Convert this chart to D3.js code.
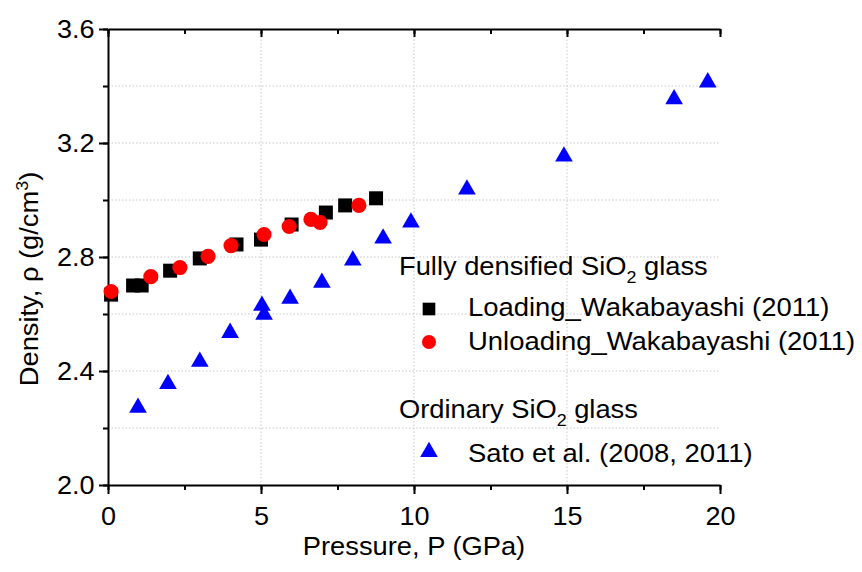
<!DOCTYPE html>
<html>
<head>
<meta charset="utf-8">
<script src="https://cdn.jsdelivr.net/npm/d3@7"></script>
<style>
  body { margin: 0; background: #fff; }
  svg text { font-family: "Liberation Sans", Arial, sans-serif; fill: #000; }
  .grid line { stroke: #c8c8c8; stroke-dasharray: 1.5 2; stroke-width: 1; }
  .axis path, .axis line { stroke: #000; stroke-width: 2; }
  .axis text { font-size: 26px; }
</style>
</head>
<body>
<script>
// Loading, Wakabayashi (2011)
const loadP   = [0.1, 0.82, 1.1, 2.03, 3.0, 4.2, 5.0, 6.0, 7.12, 7.75, 8.76];
const loadRho = [2.668, 2.700, 2.700, 2.752, 2.795, 2.844, 2.861, 2.914, 2.956, 2.981, 3.006];
// Unloading, Wakabayashi (2011)
const unloadP   = [0.1, 1.4, 2.35, 3.27, 4.02, 5.1, 5.92, 6.63, 6.93, 8.2];
const unloadRho = [2.679, 2.731, 2.763, 2.802, 2.840, 2.879, 2.907, 2.932, 2.921, 2.981];
// Sato et al. (2008, 2011), ordinary glass
const satoP   = [0.98, 1.96, 3.0, 3.99, 5.03, 5.1, 5.95, 6.99, 8.0, 8.99, 9.9, 11.73, 14.9, 18.5, 19.6];
const satoRho = [2.271, 2.355, 2.433, 2.534, 2.629, 2.598, 2.654, 2.710, 2.788, 2.865, 2.921, 3.037, 3.153, 3.354, 3.413];

const xTicks = [0, 5, 10, 15, 20];
const yTicks = [2.0, 2.4, 2.8, 3.2, 3.6];

const W = 862, H = 572;
const mLeft = 108, mRight = 720, mTop = 29, mBottom = 485;

const svg = d3.select("body").append("svg")
    .attr("width", W)
    .attr("height", H);

const x = d3.scaleLinear().domain([0, 20]).range([mLeft, mRight]);
const y = d3.scaleLinear().domain([2.0, 3.6]).range([mBottom, mTop]);

// text in the original is a little wider than Arial, so stretch it sideways
function label(parent, px, py, size, sx, anchor) {
    return parent.append("g")
        .attr("transform", `translate(${px},${py})`)
        .append("text")
        .attr("transform", `scale(${sx},1)`)
        .attr("text-anchor", anchor || "start")
        .style("font-size", size + "px");
}

// grid: major x only, y every 0.2
svg.append("g").attr("class", "grid")
    .selectAll("line")
    .data([5, 10, 15])
    .enter().append("line")
    .attr("x1", d => x(d)).attr("x2", d => x(d))
    .attr("y1", mTop).attr("y2", mBottom);
svg.append("g").attr("class", "grid")
    .selectAll("line")
    .data(d3.range(2.2, 3.6, 0.2))
    .enter().append("line")
    .attr("x1", mLeft).attr("x2", mRight)
    .attr("y1", d => y(d)).attr("y2", d => y(d));

const minorX = d3.range(0, 20.01, 2.5);
const minorY = d3.range(2.0, 3.61, 0.2);

// minor ticks
svg.append("g").attr("class", "axis")
    .attr("transform", `translate(0,${mBottom})`)
    .call(d3.axisBottom(x).tickValues(minorX).tickSize(5).tickFormat(""))
    .select(".domain").remove();
svg.append("g").attr("class", "axis")
    .attr("transform", `translate(0,${mTop})`)
    .call(d3.axisBottom(x).tickValues(minorX).tickSize(5).tickFormat(""))
    .select(".domain").remove();
svg.append("g").attr("class", "axis")
    .attr("transform", `translate(${mLeft},0)`)
    .call(d3.axisLeft(y).tickValues(minorY).tickSize(5).tickFormat(""))
    .select(".domain").remove();

// major axes
const xb = svg.append("g").attr("class", "axis")
    .attr("transform", `translate(0,${mBottom})`)
    .call(d3.axisBottom(x).tickValues(xTicks).tickSize(9).tickSizeOuter(0).tickPadding(6));
xb.selectAll("text").attr("dy", "0.95em").attr("transform", "scale(1.04,1)");

svg.append("g").attr("class", "axis")
    .attr("transform", `translate(0,${mTop})`)
    .call(d3.axisBottom(x).tickValues(xTicks).tickSize(8).tickSizeOuter(0).tickFormat(""));

const yl = svg.append("g").attr("class", "axis")
    .attr("transform", `translate(${mLeft},0)`)
    .call(d3.axisLeft(y).tickValues(yTicks).tickSize(9).tickSizeOuter(0).tickPadding(4)
        .tickFormat(d3.format(".1f")));
yl.selectAll("text").attr("transform", "scale(1.04,1)");

svg.selectAll(".axis .domain").attr("fill", "none");

// axis titles
label(svg, (mLeft + mRight) / 2, 555, 26, 1.05, "middle")
    .text("Pressure, P (GPa)");

const yt = svg.append("g")
    .attr("transform", "translate(38,279) rotate(-90)")
    .append("text")
    .attr("transform", "scale(1.05,1)")
    .attr("text-anchor", "middle")
    .style("font-size", "26px");
yt.append("tspan").text("Density, ρ (g/cm");
yt.append("tspan").attr("dy", -10).style("font-size", "17px").text("3");
yt.append("tspan").attr("dy", 10).text(")");

// markers
const sq = d3.symbol().type(d3.symbolSquare).size(196);
const ci = d3.symbol().type(d3.symbolCircle).size(180);
const tr = d3.symbol().type(d3.symbolTriangle).size(135);

svg.append("g").selectAll("path")
    .data(loadP.map((p, i) => [p, loadRho[i]]))
    .enter().append("path")
    .attr("d", sq)
    .attr("transform", d => `translate(${x(d[0])},${y(d[1])})`)
    .attr("fill", "#000");

svg.append("g").selectAll("path")
    .data(unloadP.map((p, i) => [p, unloadRho[i]]))
    .enter().append("path")
    .attr("d", ci)
    .attr("transform", d => `translate(${x(d[0])},${y(d[1])})`)
    .attr("fill", "#ff0000");

svg.append("g").selectAll("path")
    .data(satoP.map((p, i) => [p, satoRho[i]]))
    .enter().append("path")
    .attr("d", tr)
    .attr("transform", d => `translate(${x(d[0])},${y(d[1])})`)
    .attr("fill", "#0000ff");

// legend
const lg = svg.append("g");
function sio2(px, py, before, after) {
    const t = label(lg, px, py, 26, 1.05);
    t.append("tspan").text(before + "SiO");
    t.append("tspan").attr("dy", 8).style("font-size", "17px").text("2");
    t.append("tspan").attr("dy", -8).text(" " + after);
}
sio2(399, 275, "Fully densified ", "glass");
sio2(399, 418, "Ordinary ", "glass");

lg.append("path").attr("d", d3.symbol().type(d3.symbolSquare).size(160))
    .attr("transform", "translate(429,309)").attr("fill", "#000");
label(lg, 468, 316, 26, 1.055).text("Loading_Wakabayashi (2011)");
lg.append("path").attr("d", d3.symbol().type(d3.symbolCircle).size(155))
    .attr("transform", "translate(429,342)").attr("fill", "#ff0000");
label(lg, 468, 350, 26, 1.055).text("Unloading_Wakabayashi (2011)");
lg.append("path").attr("d", tr)
    .attr("transform", "translate(429,452)").attr("fill", "#0000ff");
label(lg, 468, 462, 26, 1.055).text("Sato et al. (2008, 2011)");
</script>
</body>
</html>
